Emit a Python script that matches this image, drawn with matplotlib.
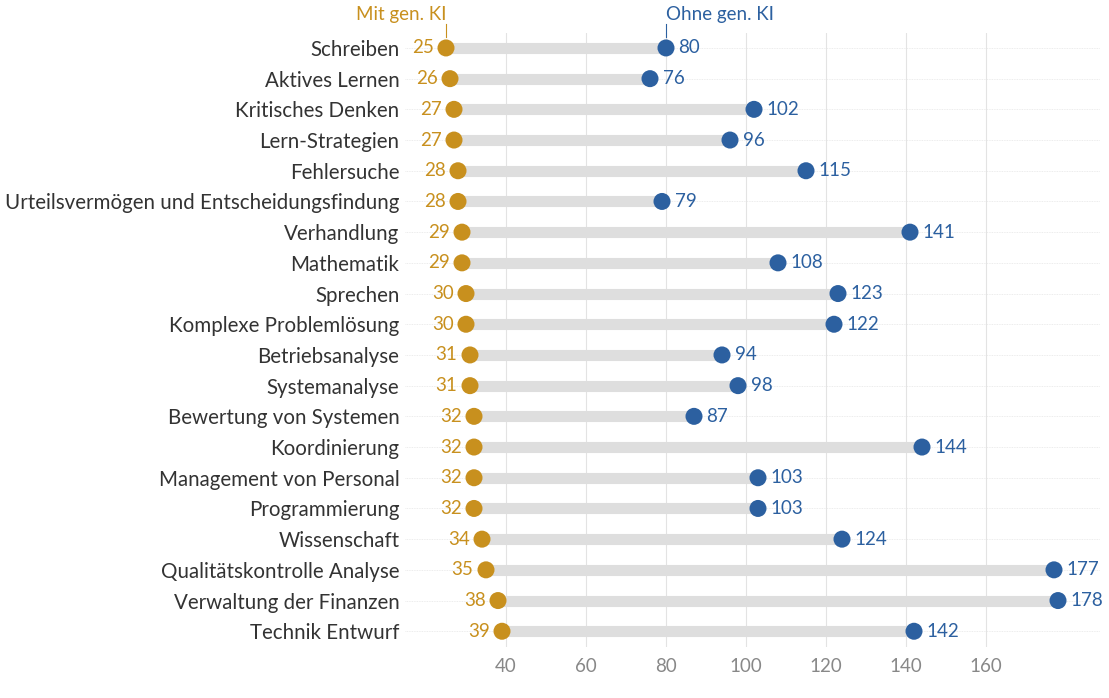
import numpy as np
import matplotlib.pyplot as plt

plt.rcParams['font.family'] = ['Lato', 'DejaVu Sans']

categories = ['Schreiben', 'Aktives Lernen', 'Kritisches Denken', 'Lern-Strategien',
              'Fehlersuche', 'Urteilsvermögen und Entscheidungsfindung', 'Verhandlung',
              'Mathematik', 'Sprechen', 'Komplexe Problemlösung', 'Betriebsanalyse',
              'Systemanalyse', 'Bewertung von Systemen', 'Koordinierung',
              'Management von Personal', 'Programmierung', 'Wissenschaft',
              'Qualitätskontrolle Analyse', 'Verwaltung der Finanzen', 'Technik Entwurf']
mit_ki = [25, 26, 27, 27, 28, 28, 29, 29, 30, 30, 31, 31, 32, 32, 32, 32, 34, 35, 38, 39]
ohne_ki = [80, 76, 102, 96, 115, 79, 141, 108, 123, 122, 94, 98, 87, 144, 103, 103, 124, 177, 178, 142]
xticks = [40, 60, 80, 100, 120, 140, 160]

gold = '#C8901E'
blue = '#2C60A0'

fig = plt.figure(figsize=(11.09, 6.98), dpi=100)
ax = fig.add_axes([405 / 1109, 51.4 / 698, (1100 - 405) / 1109, 614 / 698])

y = np.arange(len(categories))
ax.set_xlim(14.75, 188.5)
ax.set_ylim(len(categories) - 0.5, -0.5)

# grid
for t in xticks:
    ax.axvline(t, color='#e3e3e3', lw=0.8, zorder=0)
for yi in y:
    ax.axhline(yi, color='#e6e6e6', lw=0.6, ls=(0, (1, 1)), zorder=0)

ax.hlines(y, mit_ki, ohne_ki, color='#dedede', lw=8, zorder=1)
ax.scatter(mit_ki, y, s=150, color=gold, zorder=3, edgecolor='none')
ax.scatter(ohne_ki, y, s=150, color=blue, zorder=3, edgecolor='none')

for yi, a, b in zip(y, mit_ki, ohne_ki):
    ax.annotate(str(a), (a, yi), xytext=(-9, 0), textcoords='offset points',
                ha='right', va='center', color=gold, fontsize=13.5)
    ax.annotate(str(b), (b, yi), xytext=(9, 0), textcoords='offset points',
                ha='left', va='center', color=blue, fontsize=13.5)

ax.set_yticks(y)
ax.set_yticklabels(categories, fontsize=14.8, color='#333333')
ax.set_xticks(xticks)
ax.set_xticklabels([str(t) for t in xticks], fontsize=13.5, color='#888888')
ax.tick_params(axis='y', length=0, pad=4)
ax.tick_params(axis='x', length=0, pad=8)
for s in ax.spines.values():
    s.set_visible(False)

# series headers above first row
ax.plot([mit_ki[0], mit_ki[0]], [-0.35, -0.78], color=gold, lw=0.8, clip_on=False, zorder=2)
ax.text(mit_ki[0], -0.8, 'Mit gen. KI', ha='right', va='bottom', color=gold, fontsize=13.5)
ax.plot([ohne_ki[0], ohne_ki[0]], [-0.35, -0.78], color=blue, lw=0.8, clip_on=False, zorder=2)
ax.text(ohne_ki[0], -0.8, 'Ohne gen. KI', ha='left', va='bottom', color=blue, fontsize=13.5)

fig.savefig('out.png', dpi=100, facecolor='white')
